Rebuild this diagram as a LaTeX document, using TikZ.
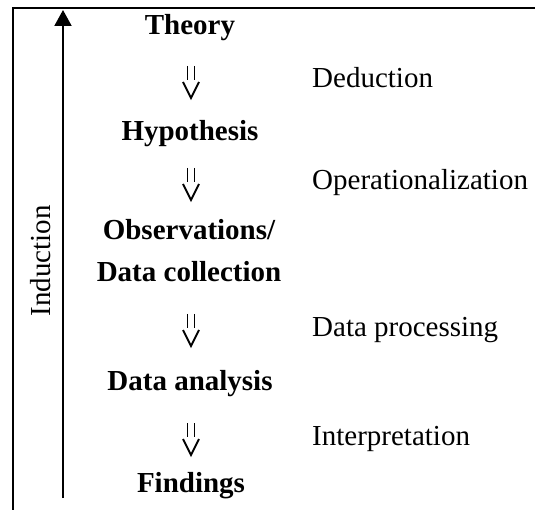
\documentclass[tikz,border=0pt]{standalone}
\usepackage{fontspec}
\setmainfont{Liberation Serif}
\usetikzlibrary{arrows.meta}
\tikzset{
	stage/.style={font=\fontsize{29}{34}\selectfont\bfseries,anchor=base,inner sep=0pt},
	action/.style={font=\fontsize{29}{34}\selectfont,anchor=base west,inner sep=0pt},
	implies/.pic={
		\draw[line width=1.8pt] (-3.5,-22) -- (-3.5,-8) (3.5,-22) -- (3.5,-8);
		\draw[line width=1.8pt] (-8,-6) -- (0,10) -- (8,-6);
	}
}
\begin{document}
\begin{tikzpicture}[x=1pt,y=-1pt]
	\useasboundingbox (0,0) rectangle (535,510);

	% frame
	\draw[line width=2pt] (13,510) -- (13,8) -- (535,8);

	% induction arrow
	\coordinate (ind-s) at (63,498);
	\coordinate (ind-e) at (63,10);
	\draw[line width=2pt,-{Triangle[length=16pt,width=17pt]}] (ind-s) -- (ind-e);
	\node [font=\fontsize{29}{34}\selectfont,rotate=90,inner sep=0pt] (ind) at (41,261) {Induction};

	% stages
	\node [stage] (theory) at (190,35) {Theory};
	\node [stage] (hyp) at (190,141) {Hypothesis};
	\node [stage] (obs) at (189,240) {Observations/};
	\node [stage] (coll) at (189,282) {Data collection};
	\node [stage] (anal) at (190,390) {Data analysis};
	\node [stage] (find) at (191,492) {Findings};

	% steps in between
	\pic at (191,88) {implies};
	\pic at (191,190) {implies};
	\pic at (191,336) {implies};
	\pic at (191,445) {implies};
	\node [action] (ded) at (312,88) {Deduction};
	\node [action] (oper) at (312,190) {Operationalization};
	\node [action] (proc) at (312,336) {Data processing};
	\node [action] (interp) at (312,445) {Interpretation};
\end{tikzpicture}
\end{document}
